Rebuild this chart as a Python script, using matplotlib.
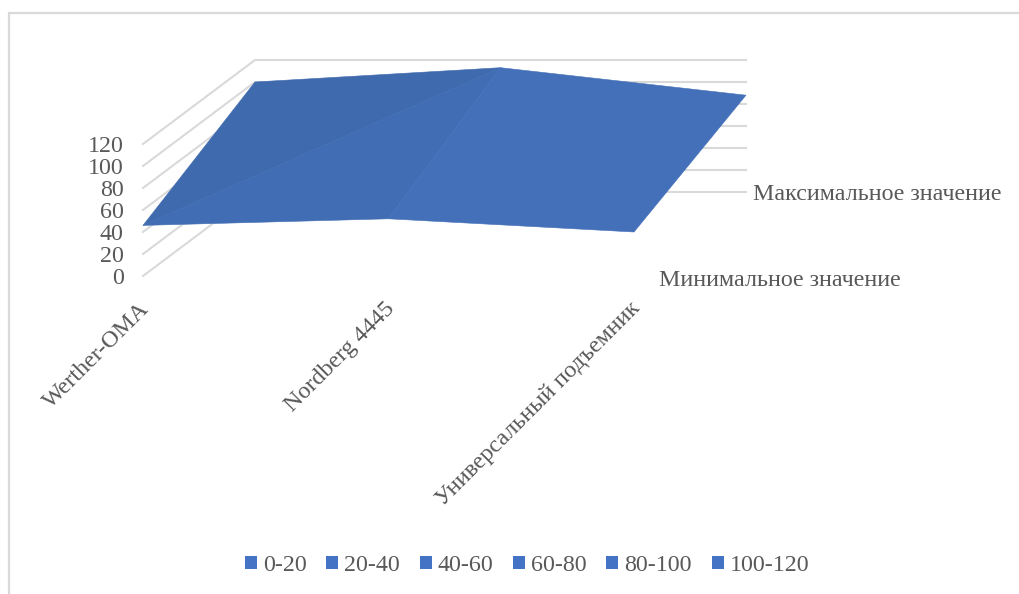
"""
3D surface chart drawn on a flat axes with an oblique projection
"""

import matplotlib
matplotlib.use('Agg')
import matplotlib.pyplot as plt
from matplotlib.patches import Patch, Polygon

# Chart data
categories = ['Werther-OMA', 'Nordberg 4445', 'Универсальный подъемник']
series_names = ['Минимальное значение', 'Максимальное значение']
min_values = [46, 52, 40]
max_values = [100, 113, 88]
value_ticks = [0, 20, 40, 60, 80, 100, 120]
band_labels = ['0-20', '20-40', '40-60', '60-80', '80-100', '100-120']

# Projection of the chart box on the page, in pixels
ORIGIN_X, ORIGIN_Y = 143, 276
CAT_STEP = 245.5
DEPTH_X, DEPTH_Y = 112, -84
VALUE_STEP = -1.1

TEXT_COLOR = '#595959'
GRID_COLOR = '#D9D9D9'
FONT_SIZE = 17.3


def project(cat, depth, value):
    """
    Category index, series index and value to page position
    """
    x = ORIGIN_X + cat * CAT_STEP + depth * DEPTH_X
    y = ORIGIN_Y + depth * DEPTH_Y + value * VALUE_STEP
    return x, y


def draw_grid(ax):
    last_cat = len(categories) - 1
    for v in value_ticks:
        front = project(0, 0, v)
        corner = project(0, 1, v)
        back = project(last_cat, 1, v)
        ax.plot([front[0], corner[0], back[0]], [front[1], corner[1], back[1]],
                color=GRID_COLOR, lw=1.5, solid_joinstyle='miter', zorder=1)


def draw_surface(ax):
    # Each cell is split in two triangles along the diagonal to the next peak
    front = [project(i, 0, v) for i, v in enumerate(min_values)]
    back = [project(i, 1, v) for i, v in enumerate(max_values)]
    dark = '#3F6AAE'
    middle = '#416DB4'
    light = '#4470B9'
    ax.add_patch(Polygon([front[0], back[0], back[1]], facecolor=dark, edgecolor=dark, lw=0.4, zorder=2))
    ax.add_patch(Polygon([front[0], back[1], front[1]], facecolor=middle, edgecolor=middle, lw=0.4, zorder=2))
    # The right cell is flat shaded, one outline keeps it free of a seam
    ax.add_patch(Polygon([front[1], back[1], back[2], front[2]], facecolor=light, edgecolor=light, lw=0.4, zorder=2))


def draw_labels(ax):
    for v in value_ticks:
        x, y = project(0, 0, v)
        ax.annotate(str(v), (x, y), xytext=(-14, -2), textcoords='offset points',
                    ha='right', va='center', color=TEXT_COLOR, fontsize=FONT_SIZE)

    # Category names run up to their tick on the front edge
    for i, name in enumerate(categories):
        x, y = project(i, 0, 0)
        ax.annotate(name, (x, y), xytext=(-3, -16), textcoords='offset points',
                    ha='right', va='top', rotation=45, rotation_mode='anchor',
                    color=TEXT_COLOR, fontsize=FONT_SIZE)

    # Series names sit along the depth axis on the right
    last_cat = len(categories) - 1
    offsets = [(18, -3), (5, -2)]
    for d, name in enumerate(series_names):
        x, y = project(last_cat, d, 0)
        ax.annotate(name, (x, y), xytext=offsets[d], textcoords='offset points',
                    ha='left', va='center', color=TEXT_COLOR, fontsize=FONT_SIZE)


if __name__ == "__main__":
    plt.rcParams['font.family'] = ['Liberation Serif', 'DejaVu Serif']

    fig = plt.figure(figsize=(10.2, 5.94), dpi=100)
    ax = fig.add_axes([0, 0, 1, 1])
    ax.set(xlim=[0, 1020], ylim=[594, 0])
    ax.axis('off')

    # Chart frame, open towards the right and the bottom of the page
    ax.plot([9, 9, 1020], [594, 13, 13], color=GRID_COLOR, lw=1.6, solid_joinstyle='miter', zorder=1)

    draw_grid(ax)
    draw_surface(ax)
    draw_labels(ax)

    handles = [Patch(facecolor='#4472C4', edgecolor='none', label=b) for b in band_labels]
    ax.legend(handles=handles, ncol=len(handles), loc='center', bbox_to_anchor=(527 / 1020, 1 - 565.5 / 594),
              frameon=False, fontsize=FONT_SIZE, labelcolor=TEXT_COLOR, handlelength=0.5, handleheight=0.5,
              handletextpad=0.25, columnspacing=0.82, borderpad=0)

    fig.savefig('out.png', dpi=100)
    plt.close(fig)
